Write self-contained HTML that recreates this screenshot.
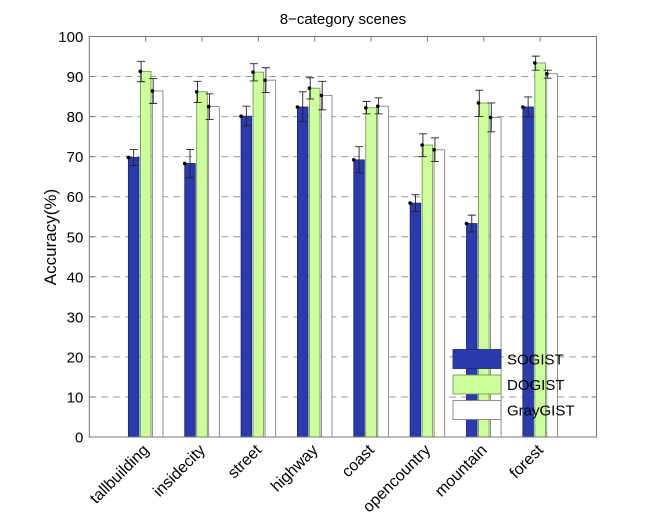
<!DOCTYPE html>
<html><head><meta charset="utf-8"><style>
body{margin:0;background:#fff;}
svg text{font-family:"Liberation Sans",Arial,sans-serif;fill:#000;}
</style></head><body>
<svg id="chart" width="659" height="526" xmlns="http://www.w3.org/2000/svg"></svg>
<script>
const categories=["tallbuilding","insidecity","street","highway","coast","opencountry","mountain","forest"];
const seriesNames=["SOGIST","DOGIST","GrayGIST"];
const sogist=[69.8,68.3,80.1,82.4,69.2,58.4,53.3,82.4];
const sogistLo=[67.8,64.7,77.7,78.7,66.0,56.3,51.2,79.9];
const sogistHi=[71.8,71.8,82.6,86.2,72.5,60.5,55.4,84.9];
const dogist=[91.3,86.2,91.1,87.1,82.2,72.9,83.4,93.4];
const dogistLo=[88.7,83.5,88.9,84.4,80.7,70.0,80.0,91.6];
const dogistHi=[93.8,88.8,93.2,89.7,83.8,75.7,86.6,95.1];
const gray=[86.4,82.5,89.1,85.3,82.6,71.7,79.8,90.7];
const grayLo=[83.3,79.3,86.0,81.7,80.7,68.8,76.2,89.6];
const grayHi=[89.5,85.7,92.2,88.8,84.7,74.7,83.4,91.6];
const yTicks=[0,10,20,30,40,50,60,70,80,90,100];

const NS="http://www.w3.org/2000/svg";
const svg=document.getElementById('chart');
const L=89.3,R=596.5,T=36.5,B=437;
const y=v=>B-(v/100)*(B-T);
const step=(R-L)/(categories.length+1);
const x=i=>L+step*(i+1);
function mk(tag,attrs,parent){const e=document.createElementNS(NS,tag);for(const k in attrs)e.setAttribute(k,attrs[k]);(parent||svg).appendChild(e);return e;}

yTicks.forEach(t=>{
  if(t>0&&t<100){const g=mk('line',{x1:L,x2:R,y1:y(t),y2:y(t),stroke:'#999','stroke-dasharray':'7,5','stroke-width':1});
  
  }
  const tl=mk('line',{x1:L,x2:L+5,y1:y(t),y2:y(t),stroke:'#777'});
  
  
  const tr=mk('line',{x1:R-5,x2:R,y1:y(t),y2:y(t),stroke:'#777'});
  
  
  const lb=mk('text',{x:L-6,y:y(t)+5.5,'text-anchor':'end','font-size':15});
  lb.textContent=t;
  
  
});
const series=[[sogist,sogistLo,sogistHi,'#2b3bae','#1a2470'],[dogist,dogistLo,dogistHi,'#ccff99','#6a8a50'],[gray,grayLo,grayHi,'#ffffff','#777']];
categories.forEach((c,i)=>{
  const cx=x(i);
  const t1=mk('line',{x1:cx,x2:cx,y1:T,y2:T+5,stroke:'#777'});
  
  
  const t2=mk('line',{x1:cx,x2:cx,y1:B-5,y2:B,stroke:'#777'});
  
  
  series.forEach((s,j)=>{
    const bx=cx+(j-1)*12-5.3;
    const r=mk('rect',{x:bx,y:y(s[0][i]),width:10.6,height:B-y(s[0][i]),fill:s[3],stroke:s[4],'stroke-width':0.8});
    
    
    const ex=j===0?bx+5.3:bx+0.8;
    const e=mk('path',{d:`M${ex},${y(s[1][i])}V${y(s[2][i])}M${ex-4},${y(s[1][i])}H${ex+4}M${ex-4},${y(s[2][i])}H${ex+4}`,stroke:'#222','stroke-width':0.9,fill:'none'});
    
    
    const d=mk('circle',{cx:bx,cy:y(s[0][i]),r:1.8,fill:'#000'});
    
    
  });
  const lb=mk('text',{x:cx+4,y:B+14,'text-anchor':'end','font-size':16,transform:`rotate(-45 ${cx+4} ${B+14})`});
  lb.textContent=c;
  
  
});
const ax=mk('rect',{x:L,y:T,width:R-L,height:B-T,fill:'none',stroke:'#777','stroke-width':1});


const ti=mk('text',{x:(L+R)/2,y:24,'text-anchor':'middle','font-size':15});
ti.textContent='8\u2212category scenes';


const yl=mk('text',{x:56,y:237,'text-anchor':'middle','font-size':17,transform:'rotate(-90 56 237)'});
yl.textContent='Accuracy(%)';


seriesNames.forEach((n,j)=>{
  const ry=349.5+j*25.5;
  const sw=mk('rect',{x:453,y:ry,width:48,height:19,fill:series[j][3],stroke:series[j][4],'stroke-width':0.8});
  
  
  const tx=mk('text',{x:507,y:ry+15,'font-size':15});
  tx.textContent=n;
  
  
});
</script>
</body></html>
